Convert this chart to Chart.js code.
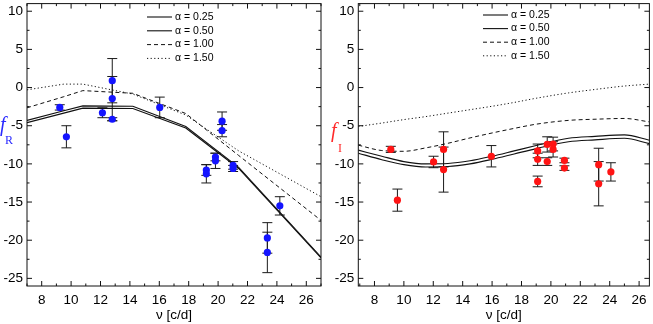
<!DOCTYPE html>
<html><head><meta charset="utf-8">
<script src="https://cdn.jsdelivr.net/npm/chart.js@4.4.1/dist/chart.umd.min.js"></script>
<style>
html,body{margin:0;padding:0;background:#fff;overflow:hidden;width:653px;height:324px}
.wrap{position:absolute;top:0;height:324px}
#w1{left:0;width:325px}
#w2{left:330px;width:323px}
canvas{display:block}
</style></head><body>
<div class="wrap" id="w1"><canvas id="c1" width="325" height="324"></canvas></div>
<div class="wrap" id="w2"><canvas id="c2" width="323" height="324"></canvas></div>
<script>
// ---------- shared ticks / labels ----------
const xTicks = [8, 10, 12, 14, 16, 18, 20, 22, 24, 26];
const yTicks = [-25, -20, -15, -10, -5, 0, 5, 10];
const alphaLabels = ['α = 0.25', 'α = 0.50', 'α = 1.00', 'α = 1.50'];
const xTitle = 'ν [c/d]';

// ---------- left panel: f_R ----------
const rFreq = [9.23, 9.68, 12.13, 12.8, 12.8, 12.8, 16.03, 19.2, 19.2, 19.82, 19.82, 20.27, 20.27, 21.02, 21.02, 23.35, 23.35, 24.2];
const rVal  = [-2.6, -6.45, -3.3, 0.9, -1.45, -4.15, -2.6, -10.8, -11.3, -9.1, -9.6, -4.4, -5.65, -10.2, -10.6, -19.7, -21.6, -15.5];
const rErr  = [0.35, 1.45, 0.65, 2.9, 2.9, 0.2, 1.35, 0.7, 1.2, 0.5, 1.0, 1.2, 0.8, 0.5, 0.4, 2.0, 2.65, 1.2];
const rModelFreq = [7, 9.5, 10.8, 14.2, 17.8, 21.4, 27];
const rA025 = [-4.3, -3.05, -2.4, -2.45, -5.1, -10.45, -22.2];
const rA050 = [-4.6, -3.35, -2.7, -2.75, -5.3, -10.6, -22.3];
const rA100 = [-2.65, -1.2, -0.4, -0.75, -3.4, -8.9, -17.4];
const rA150 = [-0.3, 0.45, 0.45, -0.85, -3.6, -8.3, -14.3];

// ---------- right panel: f_I ----------
const iFreq = [9.11, 9.56, 12.02, 12.7, 12.7, 15.95, 19.1, 19.1, 19.1, 19.75, 19.75, 20.15, 20.15, 20.92, 20.92, 23.25, 23.25, 24.08];
const iVal  = [-8.1, -14.75, -9.75, -8.1, -10.75, -9.0, -8.3, -9.4, -12.3, -7.45, -9.7, -7.4, -8.1, -9.55, -10.55, -10.1, -12.6, -11.05];
const iErr  = [0.4, 1.45, 0.75, 2.3, 2.95, 1.4, 0.9, 0.8, 0.7, 1.0, 0.5, 0.9, 1.0, 0.3, 0.3, 2.15, 2.9, 1.2];
const iModelFreq = [6.9, 8.5, 10, 11.5, 13, 14.5, 16, 17.5, 19, 21.2, 23, 25, 26.7];
const iA025 = [-8.2, -9.0, -9.7, -10.0, -9.95, -9.6, -9.0, -8.3, -7.6, -6.65, -6.4, -6.2, -6.9];
const iA050 = [-8.6, -9.45, -10.1, -10.4, -10.35, -10.0, -9.4, -8.7, -8.0, -7.1, -6.85, -6.65, -7.35];
const iA100 = [-7.55, -8.25, -8.35, -7.9, -7.3, -6.6, -5.95, -5.35, -4.8, -4.3, -4.15, -4.05, -4.5];
const iA150 = [-5.1, -4.65, -4.2, -3.8, -3.35, -2.9, -2.45, -1.95, -1.4, -0.7, -0.25, 0.2, 0.45];

const FONT = 'Liberation Sans';
const styles = [
  {dash: [], width: 1.1},
  {dash: [], width: 1.1},
  {dash: [4, 3], width: 1},
  {dash: [1.2, 2.4], width: 1}
];

const panelPlugin = {
  id: 'panel',
  beforeDatasetsDraw(chart) {
    const {ctx, chartArea: a, scales: {x, y}} = chart;
    const ds = chart.data.datasets[0];
    ctx.save();
    ctx.beginPath(); ctx.rect(a.left, a.top, a.right - a.left, a.bottom - a.top); ctx.clip();
    ctx.strokeStyle = '#1a1a1a'; ctx.lineWidth = 1;
    ds.data.forEach((p, i) => {
      const px = x.getPixelForValue(p.x);
      const y1 = y.getPixelForValue(p.y + ds.errors[i]);
      const y2 = y.getPixelForValue(p.y - ds.errors[i]);
      ctx.beginPath();
      ctx.moveTo(px, y1); ctx.lineTo(px, y2);
      ctx.moveTo(px - 5, y1); ctx.lineTo(px + 5, y1);
      ctx.moveTo(px - 5, y2); ctx.lineTo(px + 5, y2);
      ctx.stroke();
    });
    ctx.restore();
  },
  afterDraw(chart, args, o) {
    const {ctx, chartArea: a, scales: {x, y}} = chart;
    ctx.save();
    // frame
    ctx.strokeStyle = '#111'; ctx.lineWidth = 1;
    ctx.strokeRect(a.left, a.top, a.right - a.left, a.bottom - a.top);
    // inward ticks
    ctx.beginPath();
    for (let v = Math.ceil(x.min); v <= x.max; v++) {
      const len = xTicks.includes(v) ? 5 : 2.5;
      const px = x.getPixelForValue(v);
      ctx.moveTo(px, a.bottom); ctx.lineTo(px, a.bottom - len);
      ctx.moveTo(px, a.top); ctx.lineTo(px, a.top + len);
    }
    for (let v = -25; v <= 10; v += 2.5) {
      const len = yTicks.includes(v) ? 5 : 2.5;
      const py = y.getPixelForValue(v);
      ctx.moveTo(a.left, py); ctx.lineTo(a.left + len, py);
      ctx.moveTo(a.right, py); ctx.lineTo(a.right - len, py);
    }
    ctx.stroke();
    // legend
    ctx.font = '10.5px "' + FONT + '"';
    ctx.textBaseline = 'middle'; ctx.textAlign = 'left'; ctx.fillStyle = '#000';
    chart.data.datasets.slice(1).forEach((d, i) => {
      const ry = o.legY + i * o.legStep;
      ctx.beginPath();
      ctx.setLineDash(d.borderDash || []);
      ctx.lineWidth = d.borderWidth; ctx.strokeStyle = '#111';
      ctx.moveTo(o.legX, ry); ctx.lineTo(o.legX + 25, ry); ctx.stroke();
      ctx.setLineDash([]);
      ctx.fillText(d.label, o.legX + 28, ry);
    });
    // y label
    ctx.fillStyle = o.yColor;
    ctx.textBaseline = 'alphabetic';
    ctx.font = 'italic 20px "Liberation Serif"';
    ctx.fillText(o.ySym, o.fX, o.fY);
    ctx.font = '12px "Liberation Serif"';
    ctx.fillText(o.ySub, o.sX, o.sY);
    ctx.restore();
  }
};

function makeChart(id, c) {
  const models = c.models.map((vals, k) => ({
    type: 'line', label: alphaLabels[k],
    data: c.modelFreq.map((f, i) => ({x: f, y: vals[i]})),
    borderColor: '#111', borderWidth: styles[k].width, borderDash: styles[k].dash,
    pointRadius: 0, fill: false, tension: 0,
    cubicInterpolationMode: c.smooth ? 'monotone' : 'default'
  }));
  return new Chart(document.getElementById(id), {
    type: 'scatter',
    data: {datasets: [
      {type: 'scatter', data: c.freq.map((f, i) => ({x: f, y: c.val[i]})), errors: c.err,
       backgroundColor: c.color, borderWidth: 0, pointRadius: 3.6, pointHoverRadius: 3.6},
      ...models
    ]},
    options: {
      responsive: false, animation: false, events: [],
      layout: {padding: {top: 1, left: 0, right: c.padRight, bottom: 0}},
      plugins: {legend: {display: false}, tooltip: {enabled: false}, panel: c.panel},
      scales: {
        x: {
          type: 'linear', min: c.xMin, max: c.xMax,
          afterBuildTicks: s => { s.ticks = xTicks.map(v => ({value: v})); },
          afterFit: s => { s.height = 38; s.paddingLeft = 0; s.paddingRight = 0; },
          grid: {display: false, drawTicks: false}, border: {display: false},
          ticks: {color: '#000', font: {family: FONT, size: 13.5}, padding: 6, maxRotation: 0, autoSkip: false},
          title: {display: true, text: xTitle, color: '#000', font: {family: FONT, size: 13.5}, padding: {top: 0, bottom: 1}}
        },
        y: {
          type: 'linear', min: -26, max: 11,
          afterBuildTicks: s => { s.ticks = yTicks.map(v => ({value: v})); },
          afterFit: s => { s.width = c.yWidth; s.paddingTop = 0; s.paddingBottom = 0; },
          grid: {display: false, drawTicks: false}, border: {display: false},
          ticks: {color: '#000', font: {family: FONT, size: 13.5}, padding: 4, autoSkip: false}
        }
      }
    },
    plugins: [panelPlugin]
  });
}

makeChart('c1', {
  freq: rFreq, val: rVal, err: rErr, color: '#1414ff',
  modelFreq: rModelFreq, models: [rA025, rA050, rA100, rA150], smooth: false,
  xMin: 7, xMax: 27, yWidth: 27, padRight: 4,
  panel: {legX: 147, legY: 17, legStep: 13.8, yColor: '#2a2aff', ySym: 'f', ySub: 'R', fX: 0, fY: 131, sX: 5, sY: 143.5}
});
makeChart('c2', {
  freq: iFreq, val: iVal, err: iErr, color: '#ff1414',
  modelFreq: iModelFreq, models: [iA025, iA050, iA100, iA150], smooth: true,
  xMin: 6.9, xMax: 26.7, yWidth: 28.3, padRight: 1.7,
  panel: {legX: 153, legY: 15, legStep: 13.6, yColor: '#ff2a2a', ySym: 'f', ySub: 'I', fX: 1, fY: 137, sX: 8, sY: 152}
});
</script>
</body></html>
